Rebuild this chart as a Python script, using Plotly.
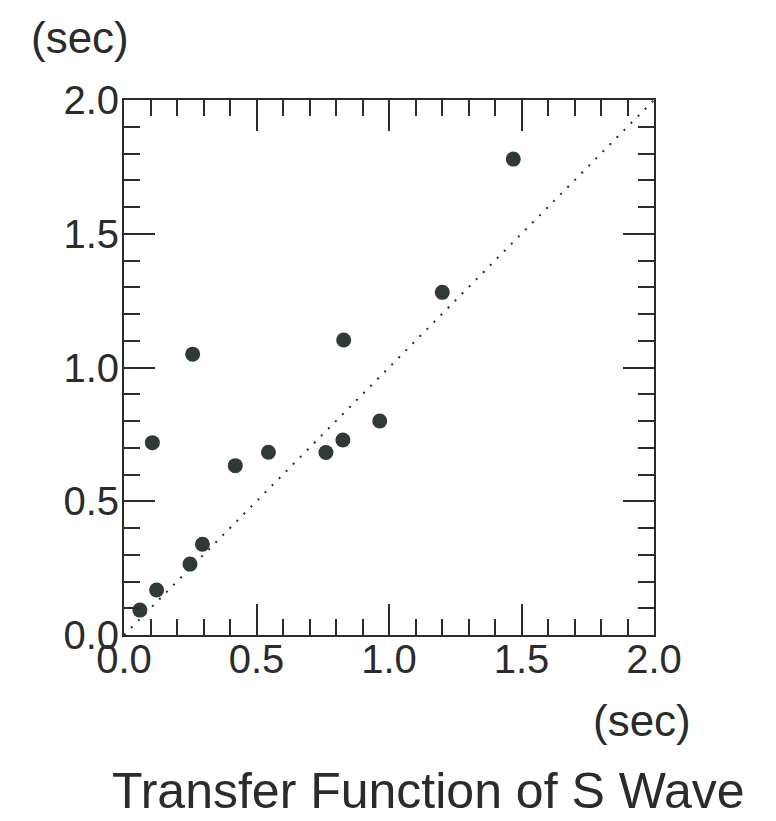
import plotly.graph_objects as go

# Data (seconds)
x_vals = [0.060, 0.123, 0.249, 0.296, 0.107, 0.259, 0.420, 0.545, 0.762, 0.826, 0.829, 0.965, 1.201, 1.469]
y_vals = [0.093, 0.168, 0.265, 0.339, 0.719, 1.050, 0.633, 0.683, 0.682, 0.729, 1.103, 0.800, 1.281, 1.779]
ref_line = [0.0, 2.0]
tick_vals = [0.0, 0.5, 1.0, 1.5, 2.0]
tick_text = ["0.0", "0.5", "1.0", "1.5", "2.0"]

FONT = "Liberation Sans, Arial, Helvetica, sans-serif"
INK = "#2b2b2b"

fig = go.Figure()
fig.add_trace(go.Scatter(
    x=ref_line, y=ref_line, mode="lines",
    line=dict(color=INK, width=2, dash="2px,8px"),
    hoverinfo="skip", showlegend=False,
))
fig.add_trace(go.Scatter(
    x=x_vals, y=y_vals, mode="markers",
    marker=dict(size=15, color="#2f3936", line=dict(width=0)),
    showlegend=False,
))

axis_common = dict(
    range=[0, 2], tickvals=tick_vals, ticktext=tick_text,
    ticks="inside", ticklen=31, tickwidth=2, tickcolor=INK,
    minor=dict(dtick=0.1, ticks="inside", ticklen=16, tickwidth=2, tickcolor=INK),
    showline=True, linewidth=2, linecolor=INK, mirror="ticks",
    showgrid=False, zeroline=False,
    tickfont=dict(family=FONT, size=40, color=INK),
    fixedrange=True,
)
fig.update_xaxes(**axis_common, ticklabelstandoff=-12)
fig.update_yaxes(**axis_common, ticklabelstandoff=-5)

fig.add_annotation(text="(sec)", xref="paper", yref="paper", x=-0.083, y=1.116,
                   showarrow=False, font=dict(family=FONT, size=44, color=INK),
                   xanchor="center", yanchor="middle")
fig.add_annotation(text="(sec)", xref="paper", yref="paper", x=0.977, y=-0.160,
                   showarrow=False, font=dict(family=FONT, size=44, color=INK),
                   xanchor="center", yanchor="middle")
fig.add_annotation(text="Transfer Function of S Wave", xref="paper", yref="paper",
                   x=0.574, y=-0.292, showarrow=False,
                   font=dict(family=FONT, size=50, color=INK),
                   xanchor="center", yanchor="middle")

fig.update_layout(
    width=776, height=821,
    margin=dict(l=116, r=130, t=92, b=194),
    paper_bgcolor="white", plot_bgcolor="white",
    showlegend=False,
)

fig.write_html("out.html")
